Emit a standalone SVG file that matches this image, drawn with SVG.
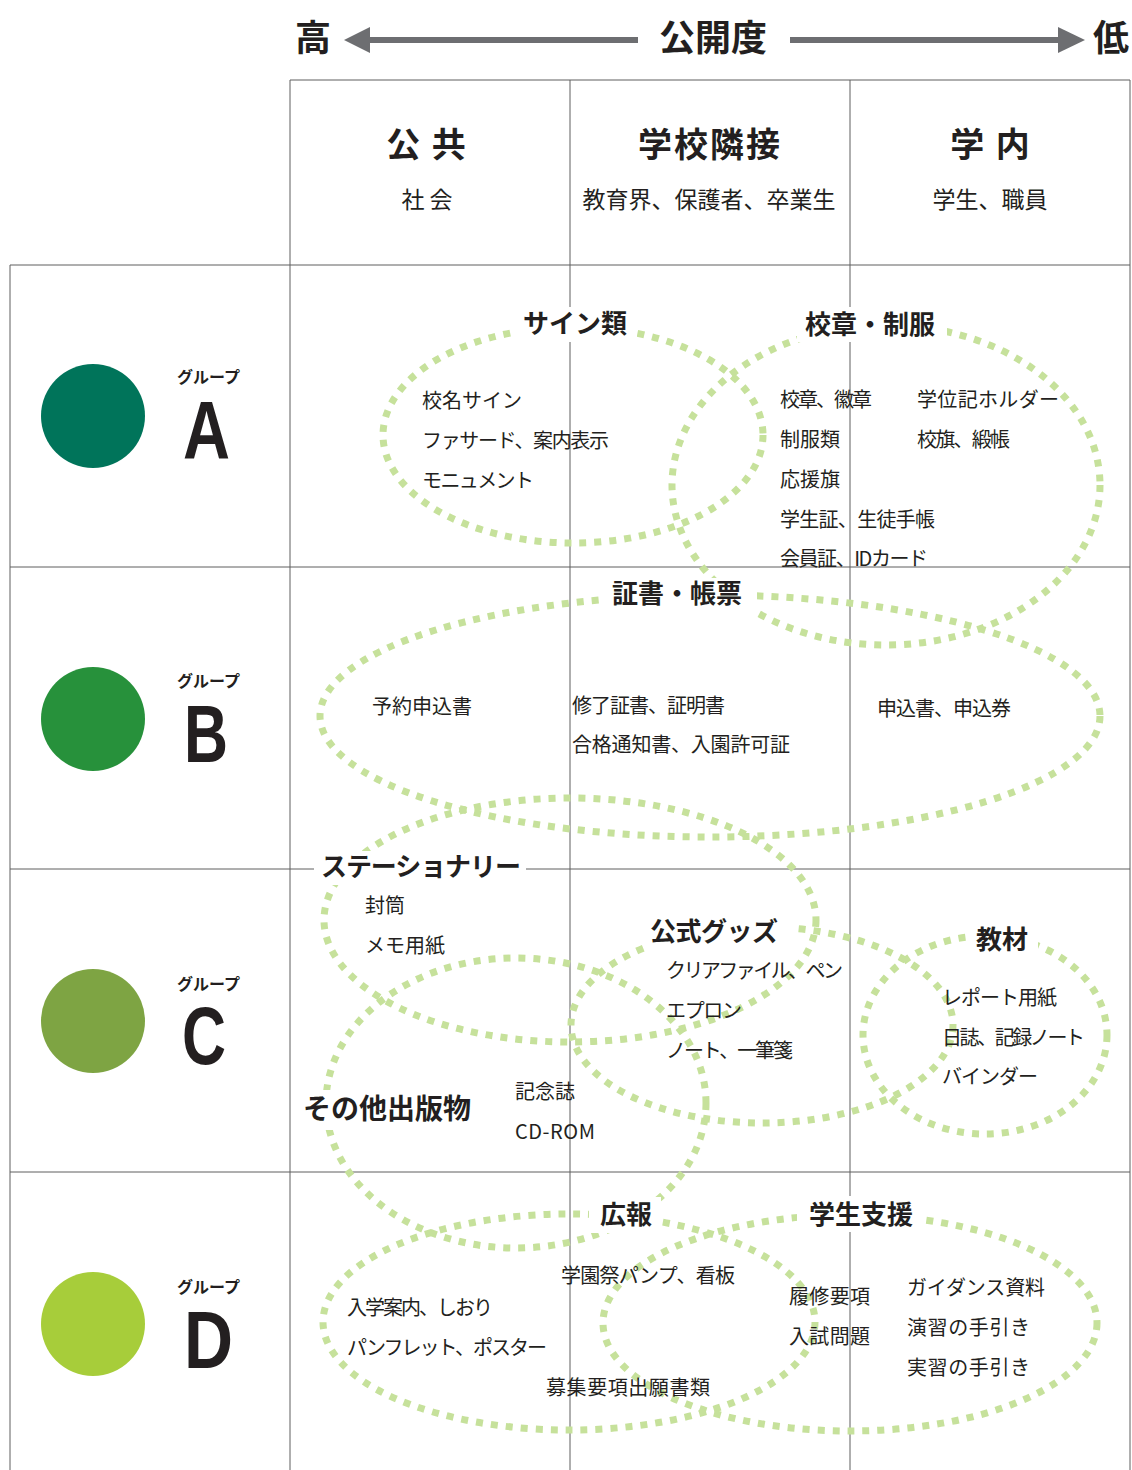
<svg xmlns="http://www.w3.org/2000/svg" width="1132" height="1470" viewBox="0 0 1132 1470">
<style>
text{font-family:"Noto Sans CJK JP","Noto Sans",sans-serif;fill:#231f20}
.top{font-size:36px;font-weight:700}
.hd{font-size:34px;font-weight:700;text-anchor:middle;letter-spacing:2px}
.sub{font-size:23px;text-anchor:middle}
.lb{font-size:26px;font-weight:700;text-anchor:middle}
.it{font-size:20px}
.grp{font-size:16px;font-weight:700}
.big{font-family:"Liberation Sans",Arial,sans-serif;font-size:81px;font-weight:700}
.grid{stroke:#5f5f5f;stroke-width:1;fill:none}
.ring{fill:none;stroke:#c6e19b;stroke-width:7;stroke-dasharray:7 8}
.bg{fill:#fff}
</style>
<rect width="1132" height="1470" fill="#fff"/>
<g id="axis">
<line x1="368" y1="40" x2="638" y2="40" stroke="#6d6e71" stroke-width="6"/>
<polygon points="344,40 370,27 370,53" fill="#6d6e71"/>
<line x1="790" y1="40" x2="1060" y2="40" stroke="#6d6e71" stroke-width="6"/>
<polygon points="1085,40 1058,27 1058,53" fill="#6d6e71"/>
<text class="top" x="295" y="51">高</text>
<text class="top" x="713" y="51" text-anchor="middle">公開度</text>
<text class="top" x="1093" y="51">低</text>
</g>
<g id="grid">
<line class="grid" x1="290" y1="80" x2="1130" y2="80"/>
<line class="grid" x1="290" y1="80" x2="290" y2="1470"/>
<line class="grid" x1="570" y1="80" x2="570" y2="1470"/>
<line class="grid" x1="850" y1="80" x2="850" y2="1470"/>
<line class="grid" x1="1130" y1="80" x2="1130" y2="1470"/>
<line class="grid" x1="10" y1="265" x2="10" y2="1470"/>
<line class="grid" x1="10" y1="265" x2="1130" y2="265"/>
<line class="grid" x1="10" y1="567" x2="1130" y2="567"/>
<line class="grid" x1="10" y1="869" x2="1130" y2="869"/>
<line class="grid" x1="10" y1="1172" x2="1130" y2="1172"/>
</g>
<g id="headers">
<text class="hd" x="427" y="157">公 共</text>
<text class="sub" x="427" y="208">社 会</text>
<text class="hd" x="710" y="157">学校隣接</text>
<text class="sub" x="709" y="208">教育界、保護者、卒業生</text>
<text class="hd" x="991" y="157">学 内</text>
<text class="sub" x="990" y="208">学生、職員</text>
</g>
<g id="group-A">
<circle cx="93" cy="416" r="52" fill="#00745a"/>
<text class="grp" x="177" y="383">グループ</text>
<text class="big" x="183" y="458" textLength="47" lengthAdjust="spacingAndGlyphs">A</text>
</g>
<g id="group-B">
<circle cx="93" cy="719" r="52" fill="#27913b"/>
<text class="grp" x="177" y="687">グループ</text>
<text class="big" x="184" y="762" textLength="44" lengthAdjust="spacingAndGlyphs">B</text>
</g>
<g id="group-C">
<circle cx="93" cy="1021" r="52" fill="#7ea443"/>
<text class="grp" x="177" y="990">グループ</text>
<text class="big" x="182" y="1064" textLength="44" lengthAdjust="spacingAndGlyphs">C</text>
</g>
<g id="group-D">
<circle cx="93" cy="1324" r="52" fill="#a7cd3a"/>
<text class="grp" x="177" y="1293">グループ</text>
<text class="big" x="184" y="1368" textLength="49" lengthAdjust="spacingAndGlyphs">D</text>
</g>
<g id="connectors">
<ellipse class="ring" cx="573" cy="435" rx="190" ry="108"/>
<ellipse class="ring" cx="886" cy="485" rx="214" ry="160"/>
<ellipse class="ring" cx="710" cy="716" rx="390" ry="121"/>
<ellipse class="ring" cx="570" cy="920" rx="246" ry="122"/>
<ellipse class="ring" cx="762" cy="1025" rx="191" ry="98"/>
<ellipse class="ring" cx="985" cy="1035" rx="122" ry="99"/>
<ellipse class="ring" cx="516" cy="1103" rx="190" ry="145"/>
<ellipse class="ring" cx="569" cy="1322" rx="246" ry="108"/>
<ellipse class="ring" cx="850" cy="1323" rx="247" ry="108"/>
</g>
<g id="label-sign">
<rect class="bg" x="512" y="307" width="125" height="35"/>
<text class="lb" x="575" y="333">サイン類</text>
<text class="it" x="422" y="408" textLength="100" lengthAdjust="spacing">校名サイン</text>
<text class="it" x="422" y="448" textLength="187" lengthAdjust="spacing">ファサード、案内表示</text>
<text class="it" x="422" y="488" textLength="112" lengthAdjust="spacing">モニュメント</text>
</g>
<g id="label-emblem">
<rect class="bg" x="797" y="307" width="150" height="35"/>
<text class="lb" x="870" y="334">校章・制服</text>
<text class="it" x="780" y="407" textLength="92" lengthAdjust="spacing">校章、徽章</text>
<text class="it" x="780" y="447">制服類</text>
<text class="it" x="780" y="487">応援旗</text>
<text class="it" x="780" y="527" textLength="155" lengthAdjust="spacing">学生証、生徒手帳</text>
<text class="it" x="780" y="566" textLength="148" lengthAdjust="spacing">会員証、IDカード</text>
<text class="it" x="917" y="407" textLength="142" lengthAdjust="spacing">学位記ホルダー</text>
<text class="it" x="917" y="447" textLength="93" lengthAdjust="spacing">校旗、緞帳</text>
</g>
<g id="label-cert">
<rect class="bg" x="600" y="578" width="157" height="36"/>
<text class="lb" x="677" y="603">証書・帳票</text>
<text class="it" x="372" y="714">予約申込書</text>
<text class="it" x="572" y="713" textLength="153" lengthAdjust="spacing">修了証書、証明書</text>
<text class="it" x="572" y="752" textLength="218" lengthAdjust="spacing">合格通知書、入園許可証</text>
<text class="it" x="877" y="716" textLength="134" lengthAdjust="spacing">申込書、申込券</text>
</g>
<g id="label-stationery">
<rect class="bg" x="314" y="851" width="212" height="34"/>
<text class="lb" x="421" y="876" textLength="200" lengthAdjust="spacing">ステーショナリー</text>
<text class="it" x="365" y="913">封筒</text>
<text class="it" x="365" y="953">メモ用紙</text>
</g>
<g id="label-goods">
<rect class="bg" x="645" y="912" width="146" height="37"/>
<text class="lb" x="714" y="941" textLength="128" lengthAdjust="spacing">公式グッズ</text>
<text class="it" x="666" y="978" textLength="177" lengthAdjust="spacing">クリアファイル、ペン</text>
<text class="it" x="666" y="1018" textLength="76" lengthAdjust="spacing">エプロン</text>
<text class="it" x="666" y="1058" textLength="127" lengthAdjust="spacing">ノート、一筆箋</text>
</g>
<g id="label-material">
<rect class="bg" x="967" y="922" width="71" height="35"/>
<text class="lb" x="1002" y="949">教材</text>
<text class="it" x="942" y="1005" textLength="115" lengthAdjust="spacing">レポート用紙</text>
<text class="it" x="942" y="1045" textLength="143" lengthAdjust="spacing">日誌、記録ノート</text>
<text class="it" x="942" y="1084" textLength="96" lengthAdjust="spacing">バインダー</text>
</g>
<g id="label-publication">
<rect class="bg" x="300" y="1090" width="176" height="40"/>
<text class="lb" x="387" y="1119" style="font-size:28px">その他出版物</text>
<text class="it" x="515" y="1099">記念誌</text>
<text class="it" x="515" y="1139" textLength="80" lengthAdjust="spacing">CD-ROM</text>
</g>
<g id="label-pr">
<rect class="bg" x="589" y="1197" width="72" height="36"/>
<text class="lb" x="626" y="1224">広報</text>
<text class="it" x="561" y="1283" textLength="174" lengthAdjust="spacing">学園祭パンプ、看板</text>
<text class="it" x="347" y="1315" textLength="146" lengthAdjust="spacing">入学案内、しおり</text>
<text class="it" x="347" y="1355" textLength="200" lengthAdjust="spacing">パンフレット、ポスター</text>
<text class="it" x="546" y="1395" textLength="164" lengthAdjust="spacing">募集要項出願書類</text>
</g>
<g id="label-support">
<rect class="bg" x="797" y="1196" width="128" height="36"/>
<text class="lb" x="861" y="1224">学生支援</text>
<text class="it" x="789" y="1304" textLength="81" lengthAdjust="spacing">履修要項</text>
<text class="it" x="789" y="1344" textLength="81" lengthAdjust="spacing">入試問題</text>
<text class="it" x="907" y="1295" textLength="138" lengthAdjust="spacing">ガイダンス資料</text>
<text class="it" x="907" y="1335" textLength="123" lengthAdjust="spacing">演習の手引き</text>
<text class="it" x="907" y="1375" textLength="123" lengthAdjust="spacing">実習の手引き</text>
</g>
</svg>
